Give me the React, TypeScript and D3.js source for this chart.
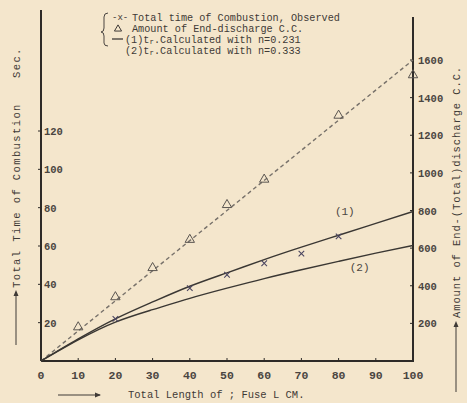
import { useRef, useEffect } from 'react';
import * as d3 from 'd3';

/* ── Data ───────────────────────────────────────────────────────── */
const X_TICKS = [0, 10, 20, 30, 40, 50, 60, 70, 80, 90, 100];
const LEFT_TICKS = [20, 40, 60, 80, 100, 120];
const RIGHT_TICKS = [200, 400, 600, 800, 1000, 1200, 1400, 1600];

// calculated combustion time curves (sec) vs fuse length (cm)
const CALC_LENGTH = [0, 10, 20, 30, 40, 50, 60, 70, 80, 90, 100];
const CALC_N0231 = [0, 11.5, 22, 30.8, 39, 46, 52.9, 59.4, 65.6, 71.8, 78];
const CALC_N0333 = [0, 11, 20.3, 26.8, 32.7, 38, 43, 47.6, 52, 56.3, 60.3];

// observed total time of combustion (sec)
const OBS_LENGTH = [20, 40, 50, 60, 70, 80];
const OBS_TIME = [22, 38, 45, 51, 56, 65];

// end-discharge amount (c.c.) and its straight dashed line
const DISCH_LENGTH = [10, 20, 30, 40, 50, 60, 80, 100];
const DISCH_CC = [180, 340, 495, 645, 830, 965, 1305, 1520];
const FIT_LENGTH = [0, 100];
const FIT_CC = [0, 1600];

const PAPER = '#f4e6cc';
const INK = '#2e2b28';
const TXT = '#3f3a36';
const MONO = '"Liberation Mono", "DejaVu Sans Mono", monospace';

function App() {
  const svgRef = useRef<SVGSVGElement>(null);

  useEffect(() => {
    const svg = d3.select(svgRef.current);
    svg.selectAll('*').remove();

    const W = 467, H = 403;
    const left = 41, right = 413, bottom = 361;

    svg.append('rect').attr('width', W).attr('height', H).attr('fill', PAPER);

    const x = d3.scaleLinear().domain([0, 100]).range([left, right]);
    const yL = d3.scaleLinear().domain([0, 120]).range([bottom, 131]);
    const yR = d3.scaleLinear().domain([0, 1600]).range([bottom, 60]);

    const g = svg.append('g');

    // frame: left, right and bottom axes
    g.append('line').attr('x1', left).attr('x2', left).attr('y1', bottom).attr('y2', 10)
      .attr('stroke', INK).attr('stroke-width', 2);
    g.append('line').attr('x1', right).attr('x2', right).attr('y1', bottom).attr('y2', 17)
      .attr('stroke', INK).attr('stroke-width', 2);
    g.append('line').attr('x1', left).attr('x2', right + 1).attr('y1', bottom).attr('y2', bottom)
      .attr('stroke', INK).attr('stroke-width', 2.2);

    // x ticks + labels
    g.selectAll('line.xt').data(X_TICKS.slice(1, -1)).enter().append('line')
      .attr('x1', d => x(d)).attr('x2', d => x(d))
      .attr('y1', bottom).attr('y2', bottom - 3)
      .attr('stroke', INK).attr('stroke-width', 1);
    g.selectAll('text.xl').data(X_TICKS).enter().append('text')
      .attr('x', d => x(d)).attr('y', 379)
      .attr('text-anchor', 'middle')
      .style('font-family', MONO).style('font-size', '11.5px').style('font-weight', 'bold')
      .style('fill', '#4a4541')
      .text(d => d);

    // left ticks: outside, labels inside
    g.selectAll('line.lt').data(LEFT_TICKS).enter().append('line')
      .attr('x1', left - 3).attr('x2', left).attr('y1', d => yL(d)).attr('y2', d => yL(d))
      .attr('stroke', INK).attr('stroke-width', 1);
    g.selectAll('text.ll').data(LEFT_TICKS).enter().append('text')
      .attr('x', left + 3).attr('y', d => yL(d) + 4)
      .style('font-family', MONO).style('font-size', '10.5px').style('font-weight', 'bold')
      .style('fill', '#4a4541')
      .text(d => d);

    // right ticks: inside, labels outside
    g.selectAll('line.rt').data(RIGHT_TICKS).enter().append('line')
      .attr('x1', right - 3).attr('x2', right).attr('y1', d => yR(d)).attr('y2', d => yR(d))
      .attr('stroke', INK).attr('stroke-width', 1);
    g.selectAll('text.rl').data(RIGHT_TICKS).enter().append('text')
      .attr('x', right + 5).attr('y', d => yR(d) + 4)
      .style('font-family', MONO).style('font-size', '10.5px').style('font-weight', 'bold')
      .style('fill', '#4a4541')
      .text(d => d);

    // dashed discharge line
    const fit = d3.line<number>().x((d, i) => x(FIT_LENGTH[i])).y(d => yR(d));
    g.append('path').attr('d', fit(FIT_CC)).attr('fill', 'none')
      .attr('stroke', '#77716a').attr('stroke-width', 1.4).attr('stroke-dasharray', '4,3');

    // calculated curves
    const curve = d3.line<number>().x((d, i) => x(CALC_LENGTH[i])).y(d => yL(d))
      .curve(d3.curveNatural);
    [CALC_N0231, CALC_N0333].forEach(s => {
      g.append('path').attr('d', curve(s)).attr('fill', 'none')
        .attr('stroke', '#3a3733').attr('stroke-width', 1.4);
    });

    // triangles
    const tri = d3.symbol().type(d3.symbolTriangle).size(38);
    g.selectAll('path.tri').data(DISCH_CC).enter().append('path')
      .attr('d', tri())
      .attr('transform', (d, i) => `translate(${x(DISCH_LENGTH[i])},${yR(d)})`)
      .attr('fill', 'none').attr('stroke', '#5a5550').attr('stroke-width', 1);

    // observed crosses
    const cross = d3.symbol().type(d3.symbolX).size(22);
    g.selectAll('path.obs').data(OBS_TIME).enter().append('path')
      .attr('d', cross())
      .attr('transform', (d, i) => `translate(${x(OBS_LENGTH[i])},${yL(d)})`)
      .attr('fill', 'none').attr('stroke', '#4a4560').attr('stroke-width', 1.1);

    // curve labels
    const curveLbl = (t: string, lx: number, ly: number) =>
      g.append('text').attr('x', lx).attr('y', ly)
        .style('font-family', MONO).style('font-size', '11px').style('fill', '#4a4541').text(t);
    curveLbl('(1)', x(79), yL(76));
    curveLbl('(2)', x(83), yL(47));

    // legend
    const lg = svg.append('g');
    const lx = 104;
    const rows = [21, 32, 43, 54];
    lg.append('path')
      .attr('d', `M${lx + 4},${rows[0] - 8} Q${lx},${rows[0] - 8} ${lx},${rows[0] - 4} L${lx},${rows[1] - 4} ` +
        `Q${lx},${rows[1]} ${lx - 3},${rows[1]} Q${lx},${rows[1]} ${lx},${rows[1] + 4} L${lx},${rows[2]} ` +
        `Q${lx},${rows[2] + 3} ${lx + 4},${rows[2] + 3}`)
      .attr('fill', 'none').attr('stroke', '#4a4541').attr('stroke-width', 1);
    const lgText = (t: string, tx: number, ty: number, fs = 10.2) =>
      lg.append('text').attr('x', tx).attr('y', ty)
        .style('font-family', MONO).style('font-size', `${fs}px`).style('fill', TXT).text(t);
    lgText('-x-', lx + 8, rows[0] - 1, 9);
    lgText('Total time of Combustion, Observed', lx + 28, rows[0]);
    lg.append('path').attr('d', tri.size(22)())
      .attr('transform', `translate(${lx + 14},${rows[1] - 3})`)
      .attr('fill', 'none').attr('stroke', TXT);
    lgText('Amount of End-discharge C.C.', lx + 28, rows[1]);
    lg.append('line').attr('x1', lx + 8).attr('x2', lx + 19).attr('y1', rows[2] - 4).attr('y2', rows[2] - 4)
      .attr('stroke', TXT).attr('stroke-width', 1.3);
    [['(1)', '0.231'], ['(2)', '0.333']].forEach(([k, n], i) => {
      const t = lg.append('text').attr('x', lx + 21).attr('y', rows[2 + i])
        .style('font-family', MONO).style('font-size', '10.2px').style('fill', TXT);
      t.append('tspan').text(`${k}t`);
      t.append('tspan').attr('dy', 1).style('font-size', '7.5px').text('r');
      t.append('tspan').attr('dy', -1).text(`.Calculated with n=${n}`);
    });

    // x-axis title
    svg.append('line').attr('x1', 58).attr('x2', 100).attr('y1', 395).attr('y2', 395)
      .attr('stroke', TXT).attr('stroke-width', 1);
    svg.append('path').attr('d', 'M101,395 L95,392.5 L95,397.5 Z').attr('fill', TXT);
    svg.append('text').attr('x', 128).attr('y', 398)
      .style('font-family', MONO).style('font-size', '10.5px').style('fill', TXT)
      .text('Total Length of ; Fuse  L  CM.');

    // left y title
    svg.append('line').attr('x1', 16).attr('x2', 16).attr('y1', 345).attr('y2', 292)
      .attr('stroke', TXT).attr('stroke-width', 1);
    svg.append('path').attr('d', 'M16,290 L13.5,296 L18.5,296 Z').attr('fill', TXT);
    svg.append('text').attr('transform', 'translate(20,288) rotate(-90)')
      .style('font-family', MONO).style('font-size', '10.5px').style('fill', TXT)
      .style('letter-spacing', '1.4px')
      .text('Total Time of Combustion');
    svg.append('text').attr('transform', 'translate(20,78) rotate(-90)')
      .style('font-family', MONO).style('font-size', '10.5px').style('fill', TXT)
      .style('letter-spacing', '1.4px')
      .text('Sec.');

    // right y title
    svg.append('line').attr('x1', 456).attr('x2', 456).attr('y1', 392).attr('y2', 324)
      .attr('stroke', TXT).attr('stroke-width', 1);
    svg.append('path').attr('d', 'M456,321 L453.5,327 L458.5,327 Z').attr('fill', TXT);
    svg.append('text').attr('transform', 'translate(460,318) rotate(-90)')
      .style('font-family', MONO).style('font-size', '10.5px').style('fill', TXT)
      .style('letter-spacing', '0.9px')
      .text('Amount of End-(Total)discharge C.C.');
  }, []);

  return (
    <svg ref={svgRef} width={467} height={403}
      style={{ position: 'absolute', left: 0, top: 0, display: 'block' }} />
  );
}

export default App;
